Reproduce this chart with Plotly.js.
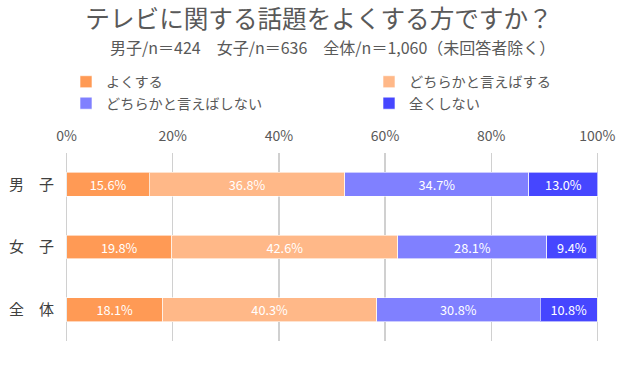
<!DOCTYPE html>
<html><head><meta charset="utf-8">
<script src="https://cdn.plot.ly/plotly-3.0.1.min.js"></script>
<style>html,body{margin:0;padding:0;background:#fff}</style>
</head><body><div id="chart" style="width:638px;height:365px"></div>
<script>
const categories = ["男　子", "女　子", "全　体"];
const seriesNames = ["よくする", "どちらかと言えばする", "どちらかと言えばしない", "全くしない"];
const yoku = [15.6, 19.8, 18.1];
const dochiraSuru = [36.8, 42.6, 40.3];
const dochiraShinai = [34.7, 28.1, 30.8];
const mattaku = [13.0, 9.4, 10.8];
const tickVals = [0, 20, 40, 60, 80, 100];
const tickText = ["0%", "20%", "40%", "60%", "80%", "100%"];
const colors = ["#FF9A55", "#FFB888", "#8080FF", "#4646FF"];
const legendOf = ["legend", "legend2", "legend", "legend2"];
const series = [yoku, dochiraSuru, dochiraShinai, mattaku];
const font = "'Noto Sans CJK JP', 'Noto Sans', sans-serif";

const traces = series.map((vals, i) => ({
  type: 'bar', orientation: 'h', name: seriesNames[i],
  x: vals, y: categories, legend: legendOf[i],
  marker: {color: colors[i], line: {color: 'rgba(255,255,255,0.6)', width: 1}},
  text: vals.map(v => v.toFixed(1) + '%'),
  textposition: 'inside', insidetextanchor: 'middle',
  textfont: {color: '#ffffff', size: 15, family: font},
  hoverinfo: 'skip'
}));

// plot area: x 64..600, y 153..341
const PL = 64, PW = 536, PT = 153, PH = 188;
const legendBase = {orientation: 'v', xref: 'paper', yref: 'paper', xanchor: 'left', yanchor: 'top',
  y: 1 + (PT - 66) / PH, font: {size: 14.2, color: '#595959'}, itemwidth: 30, tracegroupgap: 0,
  traceorder: 'normal', bgcolor: 'rgba(0,0,0,0)'};

const layout = {
  width: 638, height: 365,
  margin: {l: PL, r: 638 - PL - PW, t: PT, b: 365 - PT - PH},
  paper_bgcolor: '#ffffff', plot_bgcolor: '#ffffff',
  barmode: 'stack', bargap: 0.62,
  font: {family: font, color: '#595959'},
  title: {text: 'テレビに関する話題をよくする方ですか？', font: {size: 24.6, color: '#595959', family: font},
          xref: 'container', x: 0.5, xanchor: 'center', yref: 'container', y: 1 - 19.5 / 365, yanchor: 'middle'},
  annotations: [{text: '男子/n＝424　女子/n＝636　全体/n＝1,060（未回答者除く）', xref: 'paper', yref: 'paper',
    x: 0.5, y: 1.0, xanchor: 'center', yanchor: 'middle', yshift: 106.5, showarrow: false,
    font: {size: 16, color: '#595959', family: font}}],
  xaxis: {side: 'top', range: [-0.5, 100.5], tickvals: tickVals, ticktext: tickText,
    showgrid: true, gridcolor: '#d0d0d0', gridwidth: 1.3, zeroline: false, showline: false,
    ticks: '', ticklabelstandoff: 8, tickfont: {size: 14, color: '#595959'}, fixedrange: true},
  yaxis: {autorange: 'reversed', tickfont: {size: 15, color: '#404040'}, ticks: '',
    ticklabelstandoff: 9, showline: false, showgrid: false, fixedrange: true},
  legend: Object.assign({}, legendBase, {x: (66 - PL) / PW}),
  legend2: Object.assign({}, legendBase, {x: (369 - PL) / PW}),
  showlegend: true
};
Plotly.newPlot('chart', traces, layout, {displayModeBar: false, staticPlot: true});
</script></body></html>
